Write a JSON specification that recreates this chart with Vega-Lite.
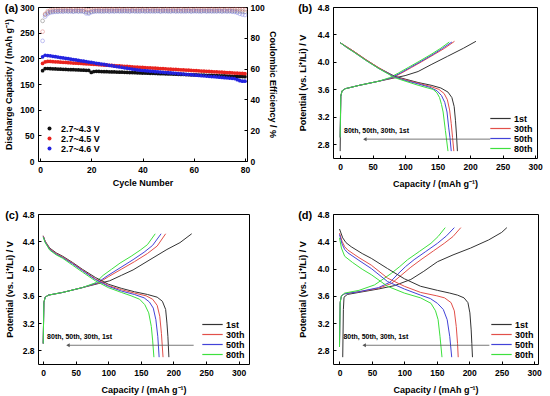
{
"$schema":"https://vega.github.io/schema/vega-lite/v6.json",
"padding":{"left":4,"top":2,"right":2,"bottom":2},
"config":{
"font":"Liberation Sans",
"view":{"stroke":"#000","strokeWidth":1},
"axis":{"grid":false,"domain":false,"tickSize":-3,"tickColor":"#000","tickCount":20,"labelFontSize":8.5,"labelFontWeight":"bold","labelColor":"#000","labelPadding":7,"labelOverlap":false,"titleFontSize":9,"titleFontWeight":"bold","titleColor":"#000","titlePadding":4,"labelFlush":false},
"legend":{"labelFontSize":9,"labelFontWeight":"bold","labelColor":"#000","padding":0,"rowPadding":0},
"title":{"fontSize":11,"fontWeight":"bold","color":"#000","anchor":"start","frame":"bounds","baseline":"bottom","offset":-11,"dy":0}
},
"datasets":{
"a":[
{"n":1,"a":176,"b":190,"c":203,"x":91,"y":84,"z":78},
{"n":2,"a":180,"b":193,"c":206,"x":95,"y":95.5,"z":93.8},
{"n":3,"a":180.2,"b":194,"c":205.5,"x":96.4,"y":97.3,"z":95.5},
{"n":4,"a":179.8,"b":194,"c":205,"x":96.9,"y":97.9,"z":96.3},
{"n":5,"a":179.6,"b":193.5,"c":204,"x":97.1,"y":98.1,"z":96.7},
{"n":6,"a":179.3,"b":193.2,"c":203.2,"x":97.3,"y":98.3,"z":96.9},
{"n":7,"a":179.1,"b":192.9,"c":202.4,"x":97.2,"y":98.2,"z":97},
{"n":8,"a":178.9,"b":192.6,"c":201.6,"x":97.4,"y":98.4,"z":97.1},
{"n":9,"a":178.7,"b":192.2,"c":200.8,"x":97.3,"y":98.3,"z":97},
{"n":10,"a":178.4,"b":191.9,"c":200,"x":97.5,"y":98.5,"z":97.2},
{"n":11,"a":178.2,"b":191.6,"c":199.2,"x":97.3,"y":98.4,"z":97.1},
{"n":12,"a":178,"b":191.3,"c":198.4,"x":97.4,"y":98.3,"z":97.2},
{"n":13,"a":177.8,"b":190.9,"c":197.6,"x":97.2,"y":98.5,"z":97},
{"n":14,"a":177.6,"b":190.6,"c":196.8,"x":97.5,"y":98.4,"z":97.2},
{"n":15,"a":177.3,"b":190.3,"c":196,"x":97.3,"y":98.3,"z":97.1},
{"n":16,"a":177.1,"b":190,"c":195.2,"x":97.4,"y":98.5,"z":97.2},
{"n":17,"a":176.9,"b":189.6,"c":194.4,"x":97.2,"y":98.4,"z":97.1},
{"n":18,"a":176.7,"b":189.3,"c":193.6,"x":96.8,"y":98.2,"z":95.9},
{"n":19,"a":176.4,"b":189,"c":192.8,"x":96.4,"y":98,"z":95.7},
{"n":20,"a":172.5,"b":188.7,"c":192,"x":97,"y":98.3,"z":96.6},
{"n":21,"a":174.3,"b":188.3,"c":191.2,"x":97.3,"y":98.4,"z":97},
{"n":22,"a":174.6,"b":188,"c":190.4,"x":97.4,"y":98.5,"z":97.2},
{"n":23,"a":174.5,"b":187.7,"c":189.6,"x":97.5,"y":98.4,"z":97.1},
{"n":24,"a":174.3,"b":187.4,"c":188.8,"x":97.3,"y":98.6,"z":97.2},
{"n":25,"a":174.1,"b":187,"c":188,"x":97.4,"y":98.4,"z":97.1},
{"n":26,"a":174,"b":186.7,"c":187.2,"x":97.5,"y":98.5,"z":97.3},
{"n":27,"a":173.8,"b":186.4,"c":186.4,"x":97.3,"y":98.4,"z":97.1},
{"n":28,"a":173.6,"b":186.1,"c":185.6,"x":97.6,"y":98.6,"z":97.2},
{"n":29,"a":173.4,"b":185.7,"c":184.8,"x":97.4,"y":98.5,"z":97.1},
{"n":30,"a":173.2,"b":185.4,"c":184,"x":97.5,"y":98.4,"z":97.3},
{"n":31,"a":173.1,"b":185.1,"c":183.2,"x":97.4,"y":98.6,"z":97.2},
{"n":32,"a":172.9,"b":184.8,"c":182.4,"x":97.6,"y":98.5,"z":97.1},
{"n":33,"a":172.7,"b":184.4,"c":181.6,"x":97.4,"y":98.4,"z":97.3},
{"n":34,"a":172.5,"b":184.1,"c":180.8,"x":97.5,"y":98.6,"z":97.2},
{"n":35,"a":172.3,"b":183.8,"c":180,"x":97.3,"y":98.5,"z":97.1},
{"n":36,"a":172.2,"b":183.5,"c":179.2,"x":97.6,"y":98.4,"z":97.3},
{"n":37,"a":172,"b":183.1,"c":178.4,"x":97.4,"y":98.6,"z":97.2},
{"n":38,"a":171.8,"b":182.8,"c":177.6,"x":97.5,"y":98.5,"z":97.1},
{"n":39,"a":171.6,"b":182.5,"c":176.8,"x":97.3,"y":98.4,"z":97.2},
{"n":40,"a":171.4,"b":182.2,"c":176.3,"x":97.6,"y":98.6,"z":97.3},
{"n":41,"a":171.3,"b":181.9,"c":175.9,"x":97.4,"y":98.5,"z":97.1},
{"n":42,"a":171.1,"b":181.6,"c":175.4,"x":97.5,"y":98.4,"z":97.2},
{"n":43,"a":170.9,"b":181.3,"c":175,"x":97.3,"y":98.6,"z":97.3},
{"n":44,"a":170.7,"b":181,"c":174.6,"x":97.6,"y":98.5,"z":97.1},
{"n":45,"a":170.5,"b":180.7,"c":174.1,"x":97.4,"y":98.4,"z":97.2},
{"n":46,"a":170.4,"b":180.4,"c":173.7,"x":97.5,"y":98.6,"z":97.3},
{"n":47,"a":170.2,"b":180.1,"c":173.3,"x":97.3,"y":98.5,"z":97.1},
{"n":48,"a":170,"b":179.8,"c":172.8,"x":97.6,"y":98.4,"z":97.2},
{"n":49,"a":169.8,"b":179.5,"c":172.4,"x":97.4,"y":98.6,"z":97.3},
{"n":50,"a":169.6,"b":179.2,"c":172,"x":97.5,"y":98.5,"z":97.1},
{"n":51,"a":169.5,"b":178.9,"c":171.5,"x":97.3,"y":98.4,"z":97.2},
{"n":52,"a":169.3,"b":178.6,"c":171.1,"x":97.6,"y":98.6,"z":97.3},
{"n":53,"a":169.1,"b":178.3,"c":170.7,"x":97.4,"y":98.5,"z":97.1},
{"n":54,"a":168.9,"b":178,"c":170.2,"x":97.5,"y":98.4,"z":97.2},
{"n":55,"a":168.7,"b":177.7,"c":169.8,"x":97.3,"y":98.6,"z":97.3},
{"n":56,"a":168.6,"b":177.4,"c":169.4,"x":97.6,"y":98.5,"z":97.1},
{"n":57,"a":168.4,"b":177.1,"c":168.9,"x":97.4,"y":98.4,"z":97.2},
{"n":58,"a":168.2,"b":176.8,"c":168.5,"x":97.5,"y":98.6,"z":97.3},
{"n":59,"a":168,"b":176.5,"c":168.1,"x":97.3,"y":98.5,"z":97.1},
{"n":60,"a":167.8,"b":176.2,"c":167.6,"x":97.6,"y":98.4,"z":97.2},
{"n":61,"a":167.7,"b":175.9,"c":167.2,"x":97.4,"y":98.6,"z":97.3},
{"n":62,"a":167.5,"b":175.6,"c":166.8,"x":97.5,"y":98.5,"z":97.1},
{"n":63,"a":167.3,"b":175.3,"c":166.3,"x":97.3,"y":98.4,"z":97.2},
{"n":64,"a":167.1,"b":175,"c":165.9,"x":97.6,"y":98.6,"z":97.3},
{"n":65,"a":166.9,"b":174.7,"c":165.5,"x":97.4,"y":98.5,"z":97.1},
{"n":66,"a":166.8,"b":174.4,"c":165,"x":97.5,"y":98.4,"z":97.2},
{"n":67,"a":166.6,"b":174.1,"c":164.6,"x":97.3,"y":98.6,"z":97.3},
{"n":68,"a":166.4,"b":173.8,"c":164.2,"x":97.6,"y":98.5,"z":97.1},
{"n":69,"a":166.2,"b":173.5,"c":163.7,"x":97.4,"y":98.4,"z":97.2},
{"n":70,"a":166,"b":173.2,"c":163.3,"x":97.5,"y":98.6,"z":97.3},
{"n":71,"a":165.9,"b":172.9,"c":162.9,"x":97.3,"y":98.5,"z":97.1},
{"n":72,"a":165.7,"b":172.6,"c":162.4,"x":97.6,"y":98.4,"z":97.2},
{"n":73,"a":165.5,"b":172.3,"c":162,"x":97.4,"y":98.6,"z":97.1},
{"n":74,"a":165.3,"b":172,"c":161.6,"x":97.5,"y":98.5,"z":97.2},
{"n":75,"a":165.1,"b":171.7,"c":161.1,"x":97.3,"y":98.4,"z":97},
{"n":76,"a":165,"b":171.4,"c":160.5,"x":97.4,"y":98.6,"z":96.8},
{"n":77,"a":164.8,"b":171.1,"c":158.5,"x":97.2,"y":98.5,"z":96.3},
{"n":78,"a":164.6,"b":170.8,"c":156.5,"x":97.1,"y":98.4,"z":95.6},
{"n":79,"a":164.4,"b":170.5,"c":155.5,"x":97,"y":98.5,"z":95.1},
{"n":80,"a":164.2,"b":170.2,"c":155.5,"x":96.8,"y":98.3,"z":94.8}
],
"pb":[
{"k":"1st","t":"c","x":0,"v":2.7},{"k":"1st","t":"c","x":1,"v":3.5},{"k":"1st","t":"c","x":3,"v":3.58},{"k":"1st","t":"c","x":8,"v":3.61},{"k":"1st","t":"c","x":30,"v":3.66},{"k":"1st","t":"c","x":60,"v":3.72},{"k":"1st","t":"c","x":80,"v":3.76},{"k":"1st","t":"c","x":100,"v":3.8},{"k":"1st","t":"c","x":120,"v":3.86},{"k":"1st","t":"c","x":140,"v":3.96},{"k":"1st","t":"c","x":165,"v":4.08},{"k":"1st","t":"c","x":190,"v":4.2},{"k":"1st","t":"c","x":209,"v":4.3},
{"k":"30th","t":"c","x":0,"v":2.9},{"k":"30th","t":"c","x":1,"v":3.5},{"k":"30th","t":"c","x":3,"v":3.58},{"k":"30th","t":"c","x":8,"v":3.61},{"k":"30th","t":"c","x":30,"v":3.66},{"k":"30th","t":"c","x":60,"v":3.72},{"k":"30th","t":"c","x":81,"v":3.77},{"k":"30th","t":"c","x":95,"v":3.84},{"k":"30th","t":"c","x":110,"v":3.92},{"k":"30th","t":"c","x":125,"v":4.0},{"k":"30th","t":"c","x":145,"v":4.11},{"k":"30th","t":"c","x":161,"v":4.2},{"k":"30th","t":"c","x":176,"v":4.3},
{"k":"50th","t":"c","x":0,"v":2.9},{"k":"50th","t":"c","x":1,"v":3.5},{"k":"50th","t":"c","x":3,"v":3.58},{"k":"50th","t":"c","x":8,"v":3.61},{"k":"50th","t":"c","x":30,"v":3.66},{"k":"50th","t":"c","x":60,"v":3.72},{"k":"50th","t":"c","x":79,"v":3.77},{"k":"50th","t":"c","x":93,"v":3.84},{"k":"50th","t":"c","x":108,"v":3.92},{"k":"50th","t":"c","x":123,"v":4.0},{"k":"50th","t":"c","x":143,"v":4.11},{"k":"50th","t":"c","x":158,"v":4.2},{"k":"50th","t":"c","x":172,"v":4.29},
{"k":"80th","t":"c","x":0,"v":2.9},{"k":"80th","t":"c","x":1,"v":3.5},{"k":"80th","t":"c","x":3,"v":3.58},{"k":"80th","t":"c","x":8,"v":3.61},{"k":"80th","t":"c","x":30,"v":3.66},{"k":"80th","t":"c","x":60,"v":3.72},{"k":"80th","t":"c","x":76,"v":3.77},{"k":"80th","t":"c","x":90,"v":3.84},{"k":"80th","t":"c","x":105,"v":3.92},{"k":"80th","t":"c","x":120,"v":4.0},{"k":"80th","t":"c","x":140,"v":4.11},{"k":"80th","t":"c","x":155,"v":4.2},{"k":"80th","t":"c","x":168,"v":4.29},
{"k":"1st","t":"d","x":0,"v":4.28},{"k":"1st","t":"d","x":10,"v":4.22},{"k":"1st","t":"d","x":20,"v":4.16},{"k":"1st","t":"d","x":40,"v":4.03},{"k":"1st","t":"d","x":60,"v":3.91},{"k":"1st","t":"d","x":84,"v":3.79},{"k":"1st","t":"d","x":100,"v":3.75},{"k":"1st","t":"d","x":120,"v":3.7},{"k":"1st","t":"d","x":140,"v":3.66},{"k":"1st","t":"d","x":155,"v":3.62},{"k":"1st","t":"d","x":166,"v":3.56},{"k":"1st","t":"d","x":172,"v":3.48},{"k":"1st","t":"d","x":175.5,"v":3.35},{"k":"1st","t":"d","x":177.5,"v":3.15},{"k":"1st","t":"d","x":179,"v":2.95},{"k":"1st","t":"d","x":180.5,"v":2.7},
{"k":"30th","t":"d","x":0,"v":4.28},{"k":"30th","t":"d","x":10,"v":4.22},{"k":"30th","t":"d","x":20,"v":4.16},{"k":"30th","t":"d","x":40,"v":4.03},{"k":"30th","t":"d","x":60,"v":3.91},{"k":"30th","t":"d","x":84,"v":3.78},{"k":"30th","t":"d","x":100,"v":3.74},{"k":"30th","t":"d","x":120,"v":3.69},{"k":"30th","t":"d","x":140,"v":3.64},{"k":"30th","t":"d","x":152,"v":3.6},{"k":"30th","t":"d","x":160,"v":3.54},{"k":"30th","t":"d","x":165,"v":3.45},{"k":"30th","t":"d","x":168.5,"v":3.3},{"k":"30th","t":"d","x":171,"v":3.1},{"k":"30th","t":"d","x":173,"v":2.9},{"k":"30th","t":"d","x":175,"v":2.7},
{"k":"50th","t":"d","x":0,"v":4.28},{"k":"50th","t":"d","x":10,"v":4.21},{"k":"50th","t":"d","x":20,"v":4.15},{"k":"50th","t":"d","x":40,"v":4.02},{"k":"50th","t":"d","x":60,"v":3.9},{"k":"50th","t":"d","x":84,"v":3.78},{"k":"50th","t":"d","x":100,"v":3.73},{"k":"50th","t":"d","x":120,"v":3.68},{"k":"50th","t":"d","x":138,"v":3.63},{"k":"50th","t":"d","x":149,"v":3.58},{"k":"50th","t":"d","x":156,"v":3.51},{"k":"50th","t":"d","x":161,"v":3.41},{"k":"50th","t":"d","x":164.5,"v":3.27},{"k":"50th","t":"d","x":167,"v":3.05},{"k":"50th","t":"d","x":169,"v":2.9},{"k":"50th","t":"d","x":171,"v":2.7},
{"k":"80th","t":"d","x":0,"v":4.28},{"k":"80th","t":"d","x":10,"v":4.21},{"k":"80th","t":"d","x":20,"v":4.15},{"k":"80th","t":"d","x":40,"v":4.02},{"k":"80th","t":"d","x":60,"v":3.9},{"k":"80th","t":"d","x":84,"v":3.77},{"k":"80th","t":"d","x":100,"v":3.72},{"k":"80th","t":"d","x":120,"v":3.66},{"k":"80th","t":"d","x":135,"v":3.62},{"k":"80th","t":"d","x":143,"v":3.6},{"k":"80th","t":"d","x":149,"v":3.55},{"k":"80th","t":"d","x":153,"v":3.48},{"k":"80th","t":"d","x":156,"v":3.38},{"k":"80th","t":"d","x":158.5,"v":3.27},{"k":"80th","t":"d","x":162,"v":3.0},{"k":"80th","t":"d","x":166,"v":2.7}
],
"pc":[
{"k":"1st","t":"c","x":0,"v":2.9},{"k":"1st","t":"c","x":1,"v":3.5},{"k":"1st","t":"c","x":3,"v":3.58},{"k":"1st","t":"c","x":8,"v":3.61},{"k":"1st","t":"c","x":30,"v":3.65},{"k":"1st","t":"c","x":60,"v":3.72},{"k":"1st","t":"c","x":85,"v":3.78},{"k":"1st","t":"c","x":102,"v":3.82},{"k":"1st","t":"c","x":120,"v":3.9},{"k":"1st","t":"c","x":138,"v":3.98},{"k":"1st","t":"c","x":164,"v":4.13},{"k":"1st","t":"c","x":190,"v":4.28},{"k":"1st","t":"c","x":210,"v":4.38},{"k":"1st","t":"c","x":228,"v":4.51},
{"k":"30th","t":"c","x":0,"v":2.9},{"k":"30th","t":"c","x":1,"v":3.5},{"k":"30th","t":"c","x":3,"v":3.58},{"k":"30th","t":"c","x":8,"v":3.61},{"k":"30th","t":"c","x":30,"v":3.65},{"k":"30th","t":"c","x":60,"v":3.72},{"k":"30th","t":"c","x":85,"v":3.79},{"k":"30th","t":"c","x":100,"v":3.88},{"k":"30th","t":"c","x":120,"v":3.99},{"k":"30th","t":"c","x":140,"v":4.1},{"k":"30th","t":"c","x":160,"v":4.22},{"k":"30th","t":"c","x":175,"v":4.33},{"k":"30th","t":"c","x":188,"v":4.51},
{"k":"50th","t":"c","x":0,"v":2.9},{"k":"50th","t":"c","x":1,"v":3.5},{"k":"50th","t":"c","x":3,"v":3.58},{"k":"50th","t":"c","x":8,"v":3.61},{"k":"50th","t":"c","x":30,"v":3.65},{"k":"50th","t":"c","x":60,"v":3.72},{"k":"50th","t":"c","x":83,"v":3.79},{"k":"50th","t":"c","x":98,"v":3.89},{"k":"50th","t":"c","x":118,"v":4.01},{"k":"50th","t":"c","x":138,"v":4.13},{"k":"50th","t":"c","x":155,"v":4.24},{"k":"50th","t":"c","x":168,"v":4.34},{"k":"50th","t":"c","x":181,"v":4.51},
{"k":"80th","t":"c","x":0,"v":2.9},{"k":"80th","t":"c","x":1,"v":3.5},{"k":"80th","t":"c","x":3,"v":3.58},{"k":"80th","t":"c","x":8,"v":3.61},{"k":"80th","t":"c","x":30,"v":3.65},{"k":"80th","t":"c","x":60,"v":3.72},{"k":"80th","t":"c","x":80,"v":3.79},{"k":"80th","t":"c","x":92,"v":3.9},{"k":"80th","t":"c","x":105,"v":3.99},{"k":"80th","t":"c","x":118,"v":4.08},{"k":"80th","t":"c","x":135,"v":4.18},{"k":"80th","t":"c","x":149,"v":4.27},{"k":"80th","t":"c","x":160,"v":4.35},{"k":"80th","t":"c","x":172,"v":4.51},
{"k":"1st","t":"d","x":0,"v":4.48},{"k":"1st","t":"d","x":3,"v":4.4},{"k":"1st","t":"d","x":10,"v":4.3},{"k":"1st","t":"d","x":20,"v":4.23},{"k":"1st","t":"d","x":30,"v":4.18},{"k":"1st","t":"d","x":45,"v":4.09},{"k":"1st","t":"d","x":60,"v":3.99},{"k":"1st","t":"d","x":80,"v":3.87},{"k":"1st","t":"d","x":100,"v":3.77},{"k":"1st","t":"d","x":120,"v":3.71},{"k":"1st","t":"d","x":140,"v":3.66},{"k":"1st","t":"d","x":160,"v":3.62},{"k":"1st","t":"d","x":175,"v":3.58},{"k":"1st","t":"d","x":183,"v":3.52},{"k":"1st","t":"d","x":188,"v":3.4},{"k":"1st","t":"d","x":190,"v":3.2},{"k":"1st","t":"d","x":191.5,"v":3.0},{"k":"1st","t":"d","x":193,"v":2.7},
{"k":"30th","t":"d","x":0,"v":4.48},{"k":"30th","t":"d","x":3,"v":4.4},{"k":"30th","t":"d","x":10,"v":4.29},{"k":"30th","t":"d","x":20,"v":4.22},{"k":"30th","t":"d","x":30,"v":4.17},{"k":"30th","t":"d","x":45,"v":4.08},{"k":"30th","t":"d","x":60,"v":3.98},{"k":"30th","t":"d","x":80,"v":3.85},{"k":"30th","t":"d","x":100,"v":3.75},{"k":"30th","t":"d","x":120,"v":3.69},{"k":"30th","t":"d","x":140,"v":3.64},{"k":"30th","t":"d","x":158,"v":3.6},{"k":"30th","t":"d","x":168,"v":3.55},{"k":"30th","t":"d","x":175,"v":3.46},{"k":"30th","t":"d","x":179,"v":3.3},{"k":"30th","t":"d","x":181.5,"v":3.05},{"k":"30th","t":"d","x":184,"v":2.7},
{"k":"50th","t":"d","x":0,"v":4.47},{"k":"50th","t":"d","x":3,"v":4.39},{"k":"50th","t":"d","x":10,"v":4.28},{"k":"50th","t":"d","x":20,"v":4.21},{"k":"50th","t":"d","x":30,"v":4.16},{"k":"50th","t":"d","x":45,"v":4.07},{"k":"50th","t":"d","x":60,"v":3.97},{"k":"50th","t":"d","x":80,"v":3.84},{"k":"50th","t":"d","x":100,"v":3.74},{"k":"50th","t":"d","x":120,"v":3.67},{"k":"50th","t":"d","x":140,"v":3.62},{"k":"50th","t":"d","x":155,"v":3.57},{"k":"50th","t":"d","x":163,"v":3.51},{"k":"50th","t":"d","x":169,"v":3.42},{"k":"50th","t":"d","x":173,"v":3.25},{"k":"50th","t":"d","x":176,"v":3.0},{"k":"50th","t":"d","x":178,"v":2.7},
{"k":"80th","t":"d","x":0,"v":4.46},{"k":"80th","t":"d","x":3,"v":4.38},{"k":"80th","t":"d","x":10,"v":4.27},{"k":"80th","t":"d","x":20,"v":4.2},{"k":"80th","t":"d","x":30,"v":4.15},{"k":"80th","t":"d","x":45,"v":4.05},{"k":"80th","t":"d","x":60,"v":3.95},{"k":"80th","t":"d","x":80,"v":3.82},{"k":"80th","t":"d","x":100,"v":3.72},{"k":"80th","t":"d","x":120,"v":3.65},{"k":"80th","t":"d","x":135,"v":3.6},{"k":"80th","t":"d","x":148,"v":3.55},{"k":"80th","t":"d","x":156,"v":3.47},{"k":"80th","t":"d","x":162,"v":3.35},{"k":"80th","t":"d","x":166,"v":3.15},{"k":"80th","t":"d","x":168,"v":2.95},{"k":"80th","t":"d","x":170,"v":2.7}
],
"pd":[
{"k":"1st","t":"c","x":5,"v":2.7},{"k":"1st","t":"c","x":6,"v":3.4},{"k":"1st","t":"c","x":7,"v":3.58},{"k":"1st","t":"c","x":12,"v":3.62},{"k":"1st","t":"c","x":30,"v":3.65},{"k":"1st","t":"c","x":60,"v":3.7},{"k":"1st","t":"c","x":85,"v":3.75},{"k":"1st","t":"c","x":110,"v":3.84},{"k":"1st","t":"c","x":130,"v":3.96},{"k":"1st","t":"c","x":151,"v":4.1},{"k":"1st","t":"c","x":175,"v":4.2},{"k":"1st","t":"c","x":202,"v":4.3},{"k":"1st","t":"c","x":230,"v":4.42},{"k":"1st","t":"c","x":250,"v":4.53},{"k":"1st","t":"c","x":258,"v":4.6},
{"k":"30th","t":"c","x":0,"v":2.85},{"k":"30th","t":"c","x":1,"v":3.5},{"k":"30th","t":"c","x":3,"v":3.6},{"k":"30th","t":"c","x":8,"v":3.63},{"k":"30th","t":"c","x":30,"v":3.66},{"k":"30th","t":"c","x":60,"v":3.71},{"k":"30th","t":"c","x":80,"v":3.78},{"k":"30th","t":"c","x":95,"v":3.9},{"k":"30th","t":"c","x":110,"v":4.02},{"k":"30th","t":"c","x":125.6,"v":4.13},{"k":"30th","t":"c","x":145,"v":4.26},{"k":"30th","t":"c","x":161.5,"v":4.37},{"k":"30th","t":"c","x":175,"v":4.47},{"k":"30th","t":"c","x":187,"v":4.6},
{"k":"50th","t":"c","x":0,"v":2.85},{"k":"50th","t":"c","x":1,"v":3.5},{"k":"50th","t":"c","x":3,"v":3.6},{"k":"50th","t":"c","x":8,"v":3.63},{"k":"50th","t":"c","x":30,"v":3.66},{"k":"50th","t":"c","x":60,"v":3.72},{"k":"50th","t":"c","x":78,"v":3.8},{"k":"50th","t":"c","x":90,"v":3.92},{"k":"50th","t":"c","x":102,"v":4.03},{"k":"50th","t":"c","x":115,"v":4.13},{"k":"50th","t":"c","x":133,"v":4.25},{"k":"50th","t":"c","x":151,"v":4.37},{"k":"50th","t":"c","x":165,"v":4.48},{"k":"50th","t":"c","x":177,"v":4.6},
{"k":"80th","t":"c","x":0,"v":2.85},{"k":"80th","t":"c","x":1,"v":3.5},{"k":"80th","t":"c","x":3,"v":3.6},{"k":"80th","t":"c","x":8,"v":3.64},{"k":"80th","t":"c","x":30,"v":3.68},{"k":"80th","t":"c","x":54,"v":3.76},{"k":"80th","t":"c","x":68,"v":3.85},{"k":"80th","t":"c","x":80,"v":3.93},{"k":"80th","t":"c","x":93,"v":4.03},{"k":"80th","t":"c","x":105,"v":4.13},{"k":"80th","t":"c","x":123,"v":4.25},{"k":"80th","t":"c","x":141,"v":4.37},{"k":"80th","t":"c","x":152,"v":4.47},{"k":"80th","t":"c","x":163,"v":4.6},
{"k":"1st","t":"d","x":0,"v":4.58},{"k":"1st","t":"d","x":5,"v":4.45},{"k":"1st","t":"d","x":10,"v":4.38},{"k":"1st","t":"d","x":18,"v":4.32},{"k":"1st","t":"d","x":35,"v":4.22},{"k":"1st","t":"d","x":49,"v":4.15},{"k":"1st","t":"d","x":74,"v":4.0},{"k":"1st","t":"d","x":100,"v":3.85},{"k":"1st","t":"d","x":125,"v":3.74},{"k":"1st","t":"d","x":151,"v":3.68},{"k":"1st","t":"d","x":170,"v":3.64},{"k":"1st","t":"d","x":182,"v":3.61},{"k":"1st","t":"d","x":192,"v":3.57},{"k":"1st","t":"d","x":198,"v":3.5},{"k":"1st","t":"d","x":201,"v":3.35},{"k":"1st","t":"d","x":203,"v":3.1},{"k":"1st","t":"d","x":204,"v":2.9},{"k":"1st","t":"d","x":205,"v":2.7},
{"k":"30th","t":"d","x":0,"v":4.52},{"k":"30th","t":"d","x":4,"v":4.4},{"k":"30th","t":"d","x":8,"v":4.32},{"k":"30th","t":"d","x":13,"v":4.27},{"k":"30th","t":"d","x":30,"v":4.16},{"k":"30th","t":"d","x":49,"v":4.05},{"k":"30th","t":"d","x":74,"v":3.86},{"k":"30th","t":"d","x":100,"v":3.74},{"k":"30th","t":"d","x":125,"v":3.65},{"k":"30th","t":"d","x":150,"v":3.6},{"k":"30th","t":"d","x":162,"v":3.57},{"k":"30th","t":"d","x":172,"v":3.5},{"k":"30th","t":"d","x":177,"v":3.38},{"k":"30th","t":"d","x":180,"v":3.15},{"k":"30th","t":"d","x":182,"v":2.9},{"k":"30th","t":"d","x":183,"v":2.7},
{"k":"50th","t":"d","x":0,"v":4.5},{"k":"50th","t":"d","x":4,"v":4.36},{"k":"50th","t":"d","x":8,"v":4.28},{"k":"50th","t":"d","x":13,"v":4.23},{"k":"50th","t":"d","x":30,"v":4.12},{"k":"50th","t":"d","x":49,"v":4.0},{"k":"50th","t":"d","x":74,"v":3.81},{"k":"50th","t":"d","x":100,"v":3.7},{"k":"50th","t":"d","x":125,"v":3.61},{"k":"50th","t":"d","x":140,"v":3.56},{"k":"50th","t":"d","x":151,"v":3.49},{"k":"50th","t":"d","x":160,"v":3.4},{"k":"50th","t":"d","x":166,"v":3.25},{"k":"50th","t":"d","x":170,"v":3.0},{"k":"50th","t":"d","x":173,"v":2.7},
{"k":"80th","t":"d","x":0,"v":4.45},{"k":"80th","t":"d","x":3,"v":4.3},{"k":"80th","t":"d","x":8,"v":4.18},{"k":"80th","t":"d","x":20,"v":4.09},{"k":"80th","t":"d","x":35,"v":3.99},{"k":"80th","t":"d","x":49,"v":3.91},{"k":"80th","t":"d","x":74,"v":3.74},{"k":"80th","t":"d","x":100,"v":3.64},{"k":"80th","t":"d","x":125,"v":3.57},{"k":"80th","t":"d","x":141,"v":3.49},{"k":"80th","t":"d","x":148,"v":3.38},{"k":"80th","t":"d","x":152,"v":3.25},{"k":"80th","t":"d","x":155,"v":3.0},{"k":"80th","t":"d","x":158,"v":2.7}
],
"arr":[{"x":231,"x2":38,"v":2.875}],
"txt":[{"x":6,"v":3.0,"label":"80th, 50th, 30th, 1st"}]
},
"columns":2,
"bounds":"flush",
"align":"each",
"spacing":{"row":53,"column":84},
"resolve":{"scale":{"color":"independent","stroke":"independent","x":"independent","y":"independent"},"legend":{"color":"independent","stroke":"independent"}},
"concat":[
{"width":209,"height":154,
"title":{"text":"(a)"},
"layer":[
{"data":{"name":"a"},"transform":[{"fold":["a","b","c"],"as":["s","q"]}],
"mark":{"type":"point","shape":"circle","filled":true,"size":14,"opacity":1,"strokeWidth":0.5},
"encoding":{
"x":{"field":"n","type":"quantitative","scale":{"domain":[-0.8,80.8],"nice":false,"zero":false},"axis":{"values":[0,20,40,60,80],"tickCount":20,"labelOverlap":false,"title":"Cycle Number","titlePadding":5}},
"y":{"field":"q","type":"quantitative","scale":{"domain":[0,300],"nice":false},"axis":{"values":[0,50,100,150,200,250,300],"tickCount":20,"labelOverlap":false,"title":"Discharge Capacity / (mAh g⁻¹)","titlePadding":6}},
"color":{"field":"s","type":"nominal","scale":{"domain":["a","b","c"],"range":["#111111","#e8231e","#2323e0"]},
"legend":{"title":null,"orient":"bottom-left","offset":7,"symbolType":"circle","symbolSize":16,"labelOffset":7,"rowPadding":0,"labelExpr":"datum.value == 'a' ? '2.7~4.3 V' : datum.value == 'b' ? '2.7~4.5 V' : '2.7~4.6 V'"}}}},
{"data":{"name":"a"},"transform":[{"fold":["x","y","z"],"as":["s2","e"]}],
"mark":{"type":"point","shape":"circle","filled":false,"size":14,"strokeWidth":0.7},
"encoding":{
"x":{"field":"n","type":"quantitative","scale":{"domain":[-0.8,80.8],"nice":false,"zero":false},"axis":{"values":[0,20,40,60,80],"tickCount":20,"labelOverlap":false,"title":"Cycle Number","titlePadding":5}},
"y":{"field":"e","type":"quantitative","scale":{"domain":[0,100],"nice":false},"axis":{"orient":"right","values":[0,20,40,60,80,100],"tickCount":20,"labelOverlap":false,"title":"Coulombic Efficiency / %","labelPadding":6,"titlePadding":3}},
"stroke":{"field":"s2","type":"nominal","scale":{"domain":["x","y","z"],"range":["#707070","#e07878","#7f7fe6"]},"legend":null}}}
],
"resolve":{"scale":{"y":"independent"}}
},
{"width":204,"height":151,
"title":{"text":"(b)"},
"layer":[
{"data":{"name":"pb"},"mark":{"type":"line","strokeWidth":1},
"encoding":{
"x":{"field":"x","type":"quantitative","scale":{"domain":[-11,303],"nice":false,"zero":false},"axis":{"values":[0,50,100,150,200,250,300],"tickCount":20,"labelOverlap":false,"title":"Capacity / (mAh g⁻¹)","titlePadding":9}},
"y":{"field":"v","type":"quantitative","scale":{"domain":[2.6,4.8],"nice":false,"zero":false},"axis":{"values":[2.8,3.2,3.6,4.0,4.4,4.8],"tickCount":20,"labelOverlap":false,"format":".1f","title":"Potential (vs. Li⁺/Li) / V","titlePadding":10}},
"color":{"field":"k","type":"nominal","scale":{"domain":["1st","30th","50th","80th"],"range":["#333333","#e2504a","#4343d8","#3ee03e"]},"legend":{"title":null,"orient":"bottom-right","offset":4,"symbolType":"M-3.4,0H3.4","symbolSize":36,"symbolStrokeWidth":1.2,"labelOffset":9,"rowPadding":0}},
"detail":{"field":"t"}}},
{"data":{"name":"arr"},"mark":{"type":"rule","color":"#555555","strokeWidth":0.8},
"encoding":{"x":{"field":"x","type":"quantitative"},"x2":{"field":"x2"},"y":{"field":"v","type":"quantitative"}}},
{"data":{"name":"arr"},"mark":{"type":"point","shape":"triangle-left","filled":true,"size":16,"color":"#555555","opacity":1},
"encoding":{"x":{"field":"x2","type":"quantitative"},"y":{"field":"v","type":"quantitative"}}},
{"data":{"name":"txt"},"mark":{"type":"text","align":"left","baseline":"middle","fontSize":7,"fontWeight":"bold","color":"#000"},
"encoding":{"x":{"field":"x","type":"quantitative"},"y":{"field":"v","type":"quantitative"},"text":{"field":"label"}}}
]},
{"width":211,"height":150,
"title":{"text":"(c)"},
"layer":[
{"data":{"name":"pc"},"mark":{"type":"line","strokeWidth":1},
"encoding":{
"x":{"field":"x","type":"quantitative","scale":{"domain":[-8,316],"nice":false,"zero":false},"axis":{"values":[0,50,100,150,200,250,300],"tickCount":20,"labelOverlap":false,"title":"Capacity / (mAh g⁻¹)","titlePadding":9}},
"y":{"field":"v","type":"quantitative","scale":{"domain":[2.6,4.8],"nice":false,"zero":false},"axis":{"values":[2.8,3.2,3.6,4.0,4.4,4.8],"tickCount":20,"labelOverlap":false,"format":".1f","title":"Potential (vs. Li⁺/Li) / V","titlePadding":8}},
"color":{"field":"k","type":"nominal","scale":{"domain":["1st","30th","50th","80th"],"range":["#333333","#e2504a","#4343d8","#3ee03e"]},"legend":{"title":null,"orient":"bottom-right","offset":4,"symbolType":"M-3.4,0H3.4","symbolSize":36,"symbolStrokeWidth":1.2,"labelOffset":9,"rowPadding":0}},
"detail":{"field":"t"}}},
{"data":{"name":"arr"},"mark":{"type":"rule","color":"#555555","strokeWidth":0.8},
"encoding":{"x":{"field":"x","type":"quantitative"},"x2":{"field":"x2"},"y":{"field":"v","type":"quantitative"}}},
{"data":{"name":"arr"},"mark":{"type":"point","shape":"triangle-left","filled":true,"size":16,"color":"#555555","opacity":1},
"encoding":{"x":{"field":"x2","type":"quantitative"},"y":{"field":"v","type":"quantitative"}}},
{"data":{"name":"txt"},"mark":{"type":"text","align":"left","baseline":"middle","fontSize":7,"fontWeight":"bold","color":"#000"},
"encoding":{"x":{"field":"x","type":"quantitative"},"y":{"field":"v","type":"quantitative"},"text":{"field":"label"}}}
]},
{"width":205,"height":150,
"title":{"text":"(d)"},
"layer":[
{"data":{"name":"pd"},"mark":{"type":"line","strokeWidth":1},
"encoding":{
"x":{"field":"x","type":"quantitative","scale":{"domain":[-10,306],"nice":false,"zero":false},"axis":{"values":[0,50,100,150,200,250,300],"tickCount":20,"labelOverlap":false,"title":"Capacity / (mAh g⁻¹)","titlePadding":9}},
"y":{"field":"v","type":"quantitative","scale":{"domain":[2.6,4.8],"nice":false,"zero":false},"axis":{"values":[2.8,3.2,3.6,4.0,4.4,4.8],"tickCount":20,"labelOverlap":false,"format":".1f","title":"Potential (vs. Li⁺/Li) / V","titlePadding":10}},
"color":{"field":"k","type":"nominal","scale":{"domain":["1st","30th","50th","80th"],"range":["#333333","#e2504a","#4343d8","#3ee03e"]},"legend":{"title":null,"orient":"bottom-right","offset":4,"symbolType":"M-3.4,0H3.4","symbolSize":36,"symbolStrokeWidth":1.2,"labelOffset":9,"rowPadding":0}},
"detail":{"field":"t"}}},
{"data":{"name":"arr"},"mark":{"type":"rule","color":"#555555","strokeWidth":0.8},
"encoding":{"x":{"field":"x","type":"quantitative"},"x2":{"field":"x2"},"y":{"field":"v","type":"quantitative"}}},
{"data":{"name":"arr"},"mark":{"type":"point","shape":"triangle-left","filled":true,"size":16,"color":"#555555","opacity":1},
"encoding":{"x":{"field":"x2","type":"quantitative"},"y":{"field":"v","type":"quantitative"}}},
{"data":{"name":"txt"},"mark":{"type":"text","align":"left","baseline":"middle","fontSize":7,"fontWeight":"bold","color":"#000"},
"encoding":{"x":{"field":"x","type":"quantitative"},"y":{"field":"v","type":"quantitative"},"text":{"field":"label"}}}
]}
]
}
